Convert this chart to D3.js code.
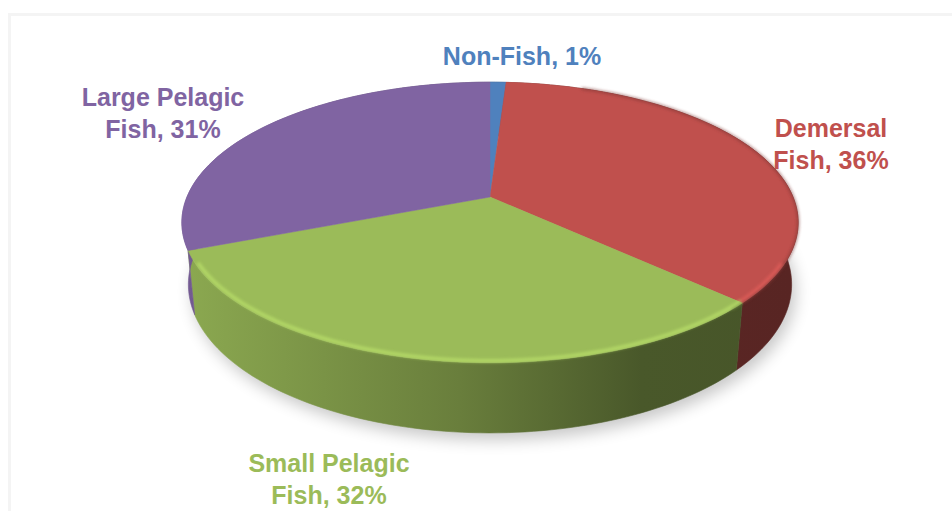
<!DOCTYPE html>
<html>
<head>
<meta charset="utf-8">
<script src="https://cdn.jsdelivr.net/npm/d3@7/dist/d3.min.js"></script>
<style>
  body { margin: 0; background: #fff; }
  svg { display: block; }
  .lbl { font-family: "Liberation Sans", Arial, sans-serif; font-weight: bold; font-size: 25px; }
</style>
</head>
<body>
<script>
// data
const categories = ['Non-Fish', 'Demersal Fish', 'Small Pelagic Fish', 'Large Pelagic Fish'];
const values = [1, 36, 32, 31];
const colors = ['#4f81bd', '#c0504d', '#9bbb59', '#8064a2'];
const labelLines = [['Non-Fish, 1%'], ['Demersal', 'Fish, 36%'], ['Small Pelagic', 'Fish, 32%'], ['Large Pelagic', 'Fish, 31%']];

const width = 952, height = 511;

// where the labels sit (text layout, picked by eye)
const labelPos = [[522, 65], [831, 137], [329, 472], [163, 106]];

// 3d camera
const cam = { cx: 490, cy: 197, f: 1492.5, D: 4.925, tilt: 26.6 * Math.PI / 180, depth: 0.23 };
const sa = Math.sin(cam.tilt), ca = Math.cos(cam.tilt);

// X right, Y up, Z toward viewer; disk radius 1
function project(X, Y, Z) {
    const yc = Y * ca - Z * sa;
    const zc = Y * sa + Z * ca;
    const k = cam.f / (cam.D - zc);
    return [cam.cx + X * k, cam.cy - yc * k];
}
// angle a clockwise from the far point
const rim = (a, Y) => project(Math.sin(a), Y, -Math.cos(a));

const svg = d3.select('body').append('svg')
    .attr('width', width)
    .attr('height', height);

const defs = svg.append('defs');
defs.append('filter').attr('id', 'shadow')
    .attr('x', '-20%').attr('y', '-20%').attr('width', '140%').attr('height', '140%')
    .append('feGaussianBlur').attr('stdDeviation', 8);
defs.append('filter').attr('id', 'soft')
    .attr('x', '-10%').attr('y', '-50%').attr('width', '120%').attr('height', '200%')
    .append('feGaussianBlur').attr('stdDeviation', 1.6);

// frame
svg.append('rect')
    .attr('x', 9.5).attr('y', 14.5)
    .attr('width', width).attr('height', height)
    .attr('fill', 'none')
    .attr('stroke', '#f4f4f4')
    .attr('stroke-width', 3);

const pie = d3.pie().sort(null).value(d => d)(values);
const line = d3.line();
const steps = a => d3.range(0, 1.0001, 1 / Math.max(2, Math.ceil((a.endAngle - a.startAngle) * 40)))
    .map(t => a.startAngle + t * (a.endAngle - a.startAngle));

// shadow under the disk
const ring = d3.range(0, 2 * Math.PI + 0.01, 0.05);
svg.append('path')
    .attr('d', line(ring.map(a => {
        const p = rim(a, -cam.depth);
        return [p[0] + 4, p[1] + 7];
    })) + 'Z')
    .attr('fill', '#000')
    .attr('opacity', 0.22)
    .attr('filter', 'url(#shadow)');

const left = rim(-Math.PI / 2, 0)[0], right = rim(Math.PI / 2, 0)[0];

// side gradients
pie.forEach((d, i) => {
    const c = d3.color(colors[i]);
    const g = defs.append('linearGradient')
        .attr('id', 'side' + i)
        .attr('gradientUnits', 'userSpaceOnUse')
        .attr('x1', left).attr('x2', right).attr('y1', 0).attr('y2', 0);
    g.append('stop').attr('offset', 0).attr('stop-color', c.darker(0.3));
    g.append('stop').attr('offset', 0.45).attr('stop-color', c.darker(1.1));
    g.append('stop').attr('offset', 0.75).attr('stop-color', c.darker(2.1));
    g.append('stop').attr('offset', 1).attr('stop-color', c.darker(2.2));
});

// outer walls
svg.append('g').selectAll('path').data(pie).enter().append('path')
    .attr('d', d => {
        const a = steps(d);
        const top = a.map(t => rim(t, 0));
        const bot = a.slice().reverse().map(t => rim(t, -cam.depth));
        return line(top.concat(bot)) + 'Z';
    })
    .attr('fill', (d, i) => `url(#side${i})`)
    .attr('stroke', (d, i) => `url(#side${i})`)
    .attr('stroke-width', 0.6);

// top faces
svg.append('g').selectAll('path').data(pie).enter().append('path')
    .attr('d', d => line([project(0, 0, 0)].concat(steps(d).map(t => rim(t, 0)))) + 'Z')
    .attr('fill', (d, i) => colors[i])
    .attr('stroke', (d, i) => colors[i])
    .attr('stroke-width', 0.5);

// dark bevel edge on the right rim
svg.append('g').selectAll('path').data(pie).enter().append('path')
    .attr('d', d => {
        const a = steps(d).filter(t => Math.sin(t) > 0.35 && Math.cos(t) > -0.72);
        if (a.length < 2) return null;
        return line(a.map(t => rim(t, 0)));
    })
    .attr('fill', 'none')
    .attr('stroke', (d, i) => d3.color(colors[i]).darker(1.2))
    .attr('stroke-width', 2.5)
    .attr('opacity', 0.6)
    .attr('filter', 'url(#soft)');

// bevel highlight along the front rim
svg.append('g').selectAll('path').data(pie).enter().append('path')
    .attr('d', d => {
        const a = steps(d).filter(t => Math.cos(t) < -0.45);
        if (a.length < 2) return null;
        return line(a.map(t => {
            const p = rim(t, 0);
            return [p[0] - 2 * Math.sin(t), p[1] - 2];
        }));
    })
    .attr('fill', 'none')
    .attr('stroke', (d, i) => d3.color(colors[i]).brighter(0.7))
    .attr('stroke-width', 3.5)
    .attr('opacity', 0.55)
    .attr('filter', 'url(#soft)');

// labels
const lbl = svg.append('g').selectAll('text').data(pie).enter().append('text')
    .attr('class', 'lbl')
    .attr('text-anchor', 'middle')
    .attr('x', (d, i) => labelPos[i][0])
    .attr('y', (d, i) => labelPos[i][1])
    .attr('fill', (d, i) => colors[i]);

lbl.selectAll('tspan').data((d, i) => labelLines[i]).enter().append('tspan')
    .attr('x', function() { return this.parentNode.getAttribute('x'); })
    .attr('dy', (d, j) => j === 0 ? 0 : 32)
    .text(d => d);
</script>
</body>
</html>
